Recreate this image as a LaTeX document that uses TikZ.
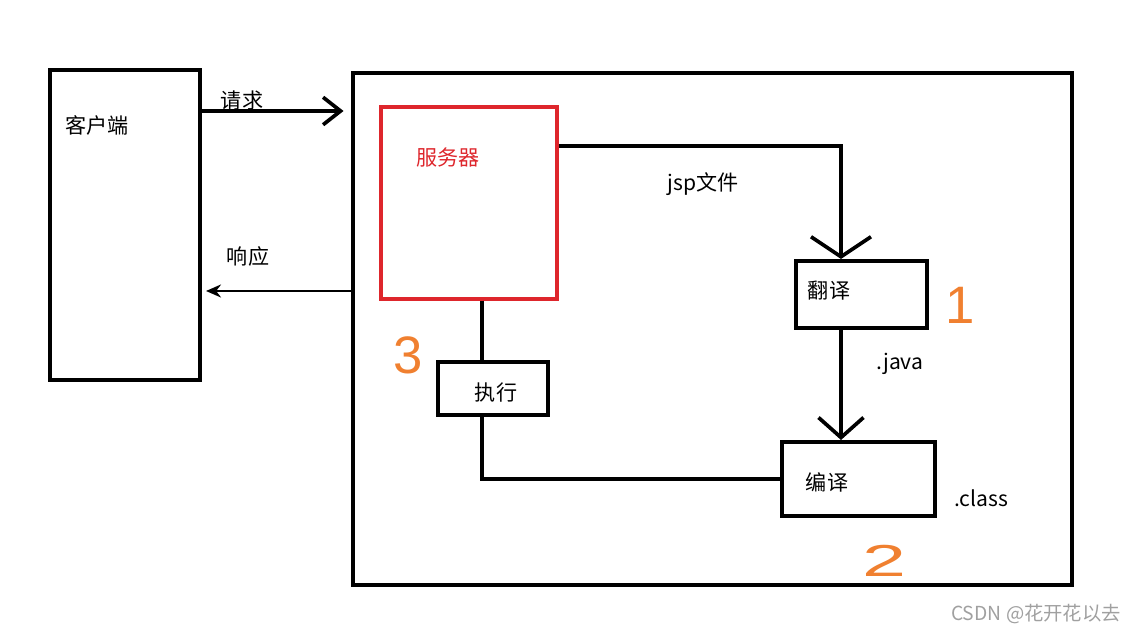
\documentclass[tikz,border=0pt]{standalone}
\usepackage{fontspec}
\setmainfont{Noto Sans CJK SC}
\newfontfamily\digitfont{Liberation Sans}
\usepackage{xcolor}
\usetikzlibrary{arrows.meta,positioning}
\definecolor{serverred}{RGB}{222, 38, 44}
\definecolor{penorange}{RGB}{240, 128, 48}
\definecolor{markgray}{RGB}{160, 160, 160}

\begin{document}
\begin{tikzpicture}[x=0.02cm, y=-0.02cm, every node/.style={font=\fontsize{12}{14}\selectfont},
    frame/.style={draw, line width=2.3pt, inner sep=0pt},
    link/.style={line width=2.1pt},
    pendigit/.style={text=penorange, font=\digitfont\fontsize{30}{34}\selectfont}]
    \useasboundingbox (0, 0) rectangle (1139, 634);

    % boxes
    \node[frame, minimum width=3cm, minimum height=6.2cm] (client) at (125, 225) {};
    \node[frame, minimum width=14.38cm, minimum height=10.24cm] (container) at (712.5, 329) {};
    \node[frame, draw=serverred, line width=1.8pt, minimum width=3.52cm, minimum height=3.84cm] (server) at (469, 203) {};
    \node[frame, minimum width=2.62cm, minimum height=1.34cm] (translate) at (861.5, 294.5) {};
    \node[frame, minimum width=2.2cm, minimum height=1.06cm] (execute) at (493, 388.5) {};
    \node[frame, minimum width=3.06cm, minimum height=1.48cm] (compile) at (858.5, 479) {};

    % texts
    \node (clienttext) at (97, 125) {客户端};
    \node[text=serverred] (servertext) at (448, 157) {服务器};
    \node (transtext) at (829, 291) {翻译};
    \node (exectext) at (496, 393) {执行};
    \node (comptext) at (827, 482) {编译};
    \node (reqtext) at (242, 101) {请求};
    \node (resptext) at (248, 256) {响应};
    \node (jsptext) at (703, 184) {jsp文件};
    \node (javatext) at (900, 364) {.java};
    \node (classtext) at (981, 498) {.class};

    % hand written step numbers
    \node[pendigit] (stepone) at (960, 305) {1};
    \node[pendigit, xscale=1.5, yscale=0.85] (steptwo) at (884, 561) {2};
    \node[pendigit] (stepthree) at (408, 355) {3};

    \node[text=markgray, font=\fontsize{11}{13}\selectfont] (watermark) at (1036, 614) {CSDN @花开花以去};

    % connectors
    \coordinate (reqy) at (0, 111);
    \coordinate (respy) at (0, 291);
    \coordinate (jspy) at (0, 146);
    \coordinate (colx) at (841, 0);
    \coordinate (execx) at (482, 0);
    \coordinate (backy) at (0, 479);

    \draw[link, shorten >=1.5mm, -{Straight Barb[length=3.5mm, width=5.5mm, line width=2.1pt]}] (client.east |- reqy) -- (container.west |- reqy);
    \draw[link, line width=1.4pt, shorten >=0.8mm, -{Stealth[length=3mm, width=2.6mm]}] (container.west |- respy) -- (client.east |- respy);
    \draw[link, -{Straight Barb[length=4mm, width=12mm, line width=2.1pt]}] (server.east |- jspy) -| (colx |- translate.north);
    \draw[link, -{Straight Barb[length=4mm, width=9mm, line width=2.1pt]}] (colx |- translate.south) -- (colx |- compile.north);
    \draw[link] (execx |- server.south) -- (execx |- execute.north);
    \draw[link] (compile.west |- backy) -| (execx |- execute.south);
\end{tikzpicture}
\end{document}
